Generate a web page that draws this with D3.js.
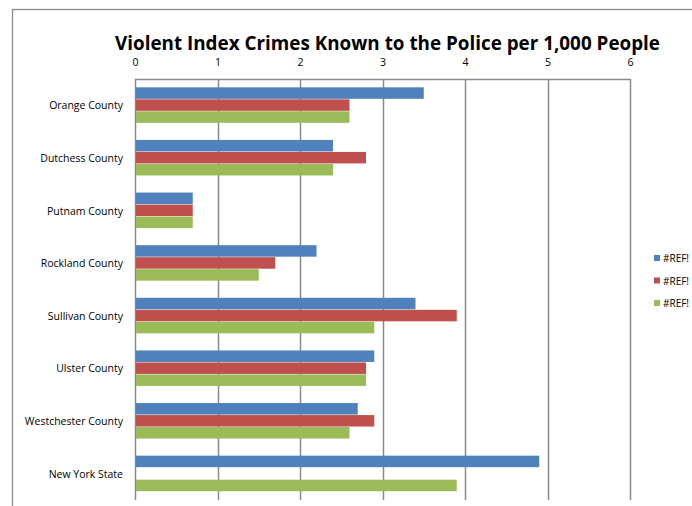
<!DOCTYPE html>
<html><head><meta charset="utf-8">
<script src="https://cdn.jsdelivr.net/npm/d3@7"></script>
<style>body{margin:0;background:#fff;}svg{display:block;font-family:"Open Sans","Liberation Sans",sans-serif;}</style>
</head><body>
<svg id="c" width="692" height="506"></svg>
<script>
const categories = ["Orange County","Dutchess County","Putnam County","Rockland County","Sullivan County","Ulster County","Westchester County","New York State"];
const seriesNames = ["#REF!","#REF!","#REF!"];
const series1 = [3.5,2.4,0.7,2.2,3.4,2.9,2.7,4.9];
const series2 = [2.6,2.8,0.7,1.7,3.9,2.8,2.9,null];
const series3 = [2.6,2.4,0.7,1.5,2.9,2.8,2.6,3.9];
const colors = ["#4F81BD","#C0504D","#9BBB59"];
const xTicks = [0,1,2,3,4,5,6];
const title = "Violent Index Crimes Known to the Police per 1,000 People";

const svg = d3.select("#c");
// outer chart border
svg.append("rect").attr("x",12.5).attr("y",9.5).attr("width",700).attr("height",520)
  .attr("fill","none").attr("stroke","#8c8c8c").attr("stroke-width",1.3);

const x = d3.scaleLinear().domain([0,6]).range([135,630]);
const y = d3.scaleBand().domain(categories).range([79,500]);
const inner = d3.scaleBand().domain([0,1,2]).range([0,36]);

// grid
svg.append("g").selectAll("line").data(xTicks).join("line")
  .attr("x1",d=>Math.round(x(d))+0.5).attr("x2",d=>Math.round(x(d))+0.5)
  .attr("y1",79).attr("y2",500).attr("stroke","#8a8a8a").attr("stroke-width",1.5);
svg.append("line").attr("x1",135).attr("x2",631).attr("y1",79.5).attr("y2",79.5)
  .attr("stroke","#8a8a8a").attr("stroke-width",1.5);

// tick labels
svg.append("g").selectAll("text").data(xTicks).join("text")
  .attr("x",d=>x(d)+0.5).attr("y",66).attr("text-anchor","middle")
  .attr("font-size",10.5).attr("fill","#000").text(d=>d);

// bars
const all = [series1,series2,series3];
all.forEach((s,si)=>{
  svg.append("g").selectAll("rect").data(categories.map((c,i)=>({c,v:s[i]})).filter(d=>d.v!=null)).join("rect")
    .attr("x",x(0)+1).attr("y",d=>y(d.c)+y.bandwidth()/2-18+inner(si))
    .attr("width",d=>x(d.v)-x(0)-1).attr("height",inner.bandwidth()-0.5)
    .attr("fill",colors[si]);
});

// category labels
svg.append("g").selectAll("text").data(categories).join("text")
  .attr("x",123).attr("y",d=>y(d)+y.bandwidth()/2+4).attr("text-anchor","end")
  .attr("font-size",10.5).attr("fill","#000").text(d=>d);

// title
svg.append("text").attr("x",115).attr("y",50).attr("font-size",19).attr("font-weight","bold")
  .attr("textLength",545).attr("lengthAdjust","spacingAndGlyphs").attr("fill","#000").text(title);

// legend
const lg = svg.append("g");
seriesNames.forEach((n,i)=>{
  lg.append("rect").attr("x",654).attr("y",255+i*22.5).attr("width",6).attr("height",6).attr("fill",colors[i]);
  lg.append("text").attr("x",663).attr("y",262+i*22.5).attr("font-size",10).attr("fill","#000").text(n);
});
</script>
</body></html>
